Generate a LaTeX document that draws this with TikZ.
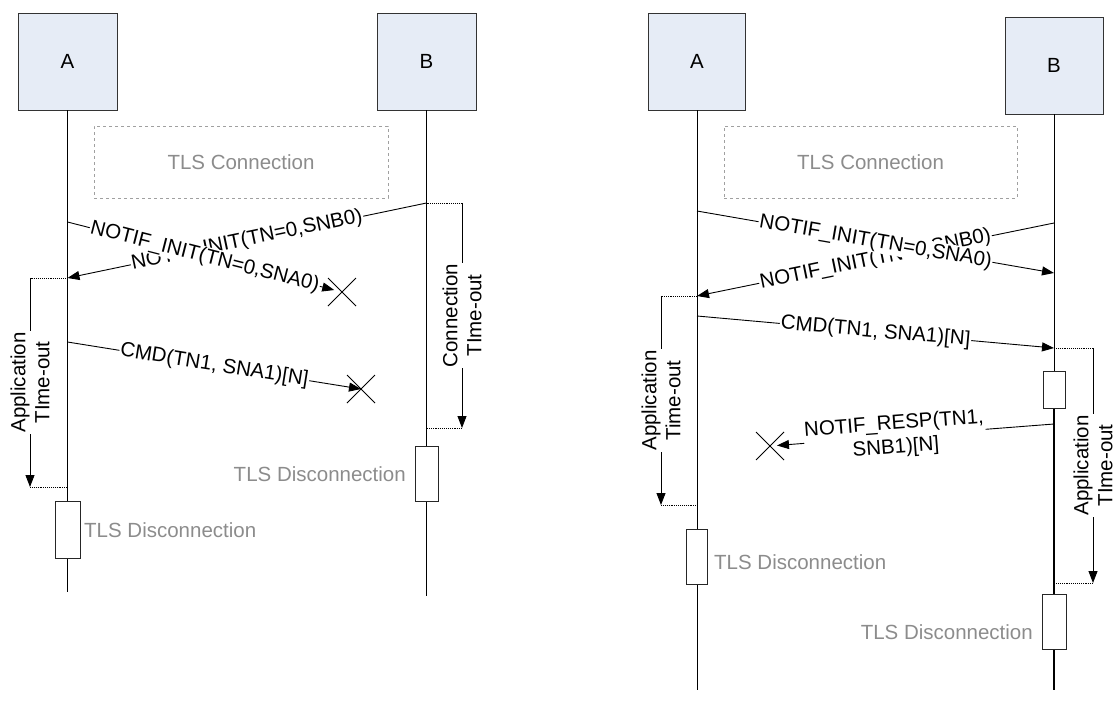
\documentclass[tikz,border=0pt]{standalone}
\usepackage{fontspec}
\setmainfont{Liberation Sans}
\usetikzlibrary{arrows.meta,shapes.misc}
\definecolor{boxblue}{HTML}{E6ECF6}
\definecolor{tlsgray}{HTML}{8C8C8C}
\definecolor{dashgray}{HTML}{A0A0A0}
\newcommand\diagfont{\fontsize{20.5}{24}\selectfont}
\begin{document}
\begin{tikzpicture}[x=1pt,y=-1pt,
  actor/.style={draw=black!80, fill=boxblue, minimum height=97pt, inner sep=0pt, font=\diagfont},
  lifeln/.style={draw=black, line width=0.9pt},
  conbox/.style={draw=dashgray, dashed, line width=0.9pt, minimum height=72pt, inner sep=0pt, text=tlsgray, font=\diagfont},
  msgline/.style={draw=black, line width=0.9pt},
  arr/.style={-{Triangle[length=12pt,width=9pt]}},
  msg/.style={fill=white, inner sep=1pt, font=\diagfont, sloped},
  lost/.style={draw=black, cross out, line width=1pt, minimum size=27pt, inner sep=0pt},
  dotln/.style={draw=black, densely dotted, line width=0.9pt},
  tolabel/.style={fill=white, inner sep=1pt, rotate=90, align=center, font=\diagfont},
  actbox/.style={draw=black!85, fill=white, line width=0.9pt, inner sep=0pt},
  greytext/.style={text=tlsgray, inner sep=0pt, font=\diagfont}]
\useasboundingbox (0,0) rectangle (1115,718);

% ================= LEFT DIAGRAM =================
\node[actor, minimum width=99pt] (A1) at (67.5,61.5) {A};
\node[actor, minimum width=99pt] (B1) at (426.5,61.5) {B};
\coordinate (A1end) at (67.5,592);
\coordinate (B1end) at (426.5,596);
\draw[lifeln] (A1.south) -- (A1end);
\draw[lifeln] (B1.south) -- (B1end);

\node[conbox, minimum width=294pt] (C1) at (241,162) {TLS Connection};

% messages
\coordinate (l2s) at (426.5,203);
\coordinate (l2e) at (67.5,278);
\draw[msgline, arr] (l2s) -- node[msg, pos=0.5] {NOTIF\_INIT(TN=0,SNB0)} (l2e);

\coordinate (l1s) at (67.5,222);
\node[lost] (X1) at (342,292) {};
\draw[msgline, arr, shorten >=8pt] (l1s) -- node[msg, pos=0.5] {NOTIF\_INIT(TN=0,SNA0)} (X1.center);

\coordinate (l3s) at (67.5,342);
\node[lost] (X2) at (361,389) {};
\draw[msgline, arr] (l3s) -- node[msg, pos=0.5] {CMD(TN1, SNA1)[N]} (X2.center);

% application time-out on A
\coordinate (ta1) at (30,278);
\coordinate (ta2) at (30,487);
\coordinate (la2) at (67.5,487);
\draw[dotln] (l2e) -- (ta1);
\draw[msgline, arr] (ta1) -- node[tolabel, midway] {Application\\TIme-out} (ta2);
\draw[dotln] (ta2) -- (la2);

% connection time-out on B
\coordinate (tb1) at (462,203);
\coordinate (tb2) at (462,428);
\coordinate (lb2) at (426.5,428);
\draw[dotln] (l2s) -- (tb1);
\draw[msgline, arr] (tb1) -- node[tolabel, midway] {Connection\\TIme-out} (tb2);
\draw[dotln] (tb2) -- (lb2);

% disconnections
\node[actbox, minimum width=23pt, minimum height=55pt] (DB1) at (426.5,473.5) {};
\node[greytext, anchor=east] (TDB1) at (406,474) {TLS Disconnection};
\node[actbox, minimum width=25pt, minimum height=57pt] (DA1) at (67.5,529.5) {};
\node[greytext, anchor=west] (TDA1) at (84,530) {TLS Disconnection};

% ================= RIGHT DIAGRAM =================
\node[actor, minimum width=97pt] (A2) at (697,61.5) {A};
\node[actor, minimum width=98pt] (B2) at (1054,65.5) {B};
\coordinate (A2end) at (697,690);
\coordinate (B2mid) at (1054,408);
\coordinate (B2end) at (1054,690);
\draw[lifeln] (A2.south) -- (A2end);
\draw[lifeln] (B2.south) -- (B2mid);
\draw[lifeln, line width=1.5pt] (B2mid) -- (B2end);

\node[conbox, minimum width=293pt] (C2) at (870.5,162) {TLS Connection};

\coordinate (r2s) at (1054,223);
\coordinate (r2e) at (697,296);
\draw[msgline, arr] (r2s) -- node[msg, pos=0.5] {NOTIF\_INIT(TN=0,SNB0)} (r2e);

\coordinate (r1s) at (697,211);
\coordinate (r1e) at (1054,273);
\draw[msgline, arr] (r1s) -- node[msg, pos=0.5] {NOTIF\_INIT(TN=0,SNA0)} (r1e);

\coordinate (r3s) at (697,316);
\coordinate (r3e) at (1054,348);
\draw[msgline, arr] (r3s) -- node[msg, pos=0.5] {CMD(TN1, SNA1)[N]} (r3e);

% application time-out on A
\coordinate (ra1) at (661,296);
\coordinate (ra2) at (661,505);
\coordinate (ra3) at (697,505);
\draw[dotln] (r2e) -- (ra1);
\draw[msgline, arr] (ra1) -- node[tolabel, midway] {Application\\Time-out} (ra2);
\draw[dotln] (ra2) -- (ra3);

% application time-out on B
\coordinate (rb1) at (1093,348);
\coordinate (rb2) at (1093,583);
\coordinate (rb3) at (1054,583);
\draw[dotln] (r3e) -- (rb1);
\draw[msgline, arr] (rb1) -- node[tolabel, midway] {Application\\TIme-out} (rb2);
\draw[dotln] (rb2) -- (rb3);

% processing box on B
\node[actbox, minimum width=22pt, minimum height=37pt] (PB2) at (1054,389.5) {};

% lost response
\coordinate (r4s) at (1054,424);
\node[lost] (X3) at (770,446) {};
\draw[msgline, arr, shorten >=7pt] (r4s) -- node[msg, pos=0.56, align=center] {NOTIF\_RESP(TN1,\\SNB1)[N]} (X3.center);

% disconnections
\node[actbox, minimum width=21pt, minimum height=55pt] (DA2) at (697,556.5) {};
\node[greytext, anchor=west] (TDA2) at (714,562) {TLS Disconnection};
\node[actbox, minimum width=24pt, minimum height=55pt] (DB2) at (1054,621.5) {};
\node[greytext, anchor=east] (TDB2) at (1033,632) {TLS Disconnection};
\end{tikzpicture}
\end{document}
